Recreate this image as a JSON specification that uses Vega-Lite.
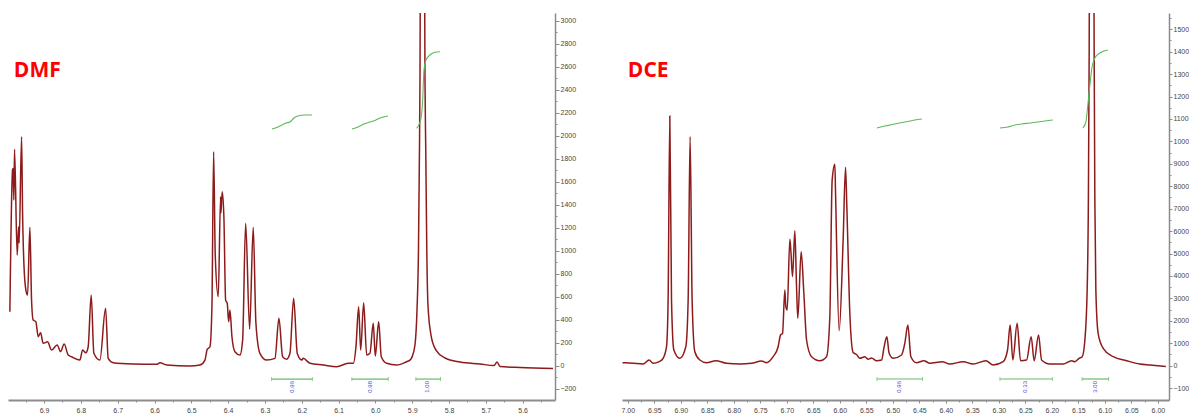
{
"$schema": "https://vega.github.io/schema/vega-lite/v6.json",
"padding": {"left": 8, "top": 13, "right": 0, "bottom": -6},
"background": "white",
"spacing": 67,
"bounds": "flush",
"config": {"view": {"stroke": null}, "axis": {"grid": false, "labelFont": "Liberation Sans", "labelFontSize": 7, "labelColor": "#444444", "domainColor": "#8c8c8c", "tickColor": "#8c8c8c", "titleFont": "Liberation Sans", "titleFontSize": 7, "titleFontWeight": "normal", "titleColor": "#444444", "labelOverlap": false, "labelFlush": false}},
"datasets": {
"dmf": [{"ppm":6.9929,"i":469},{"ppm":6.9856,"i":1702},{"ppm":6.9840,"i":1716},{"ppm":6.9821,"i":1441},{"ppm":6.9802,"i":1882},{"ppm":6.9731,"i":962},{"ppm":6.9693,"i":1209},{"ppm":6.9677,"i":1067},{"ppm":6.9611,"i":1991},{"ppm":6.9584,"i":1328},{"ppm":6.9549,"i":893},{"ppm":6.9494,"i":658},{"ppm":6.9448,"i":615},{"ppm":6.9386,"i":1203},{"ppm":6.9340,"i":571},{"ppm":6.9296,"i":397},{"ppm":6.9223,"i":383},{"ppm":6.9160,"i":252},{"ppm":6.9095,"i":287},{"ppm":6.9024,"i":195},{"ppm":6.8905,"i":208},{"ppm":6.8796,"i":136},{"ppm":6.8644,"i":180},{"ppm":6.8552,"i":122},{"ppm":6.8454,"i":189},{"ppm":6.8345,"i":93},{"ppm":6.8253,"i":78},{"ppm":6.8027,"i":49},{"ppm":6.7954,"i":136},{"ppm":6.7864,"i":113},{"ppm":6.7802,"i":165},{"ppm":6.7720,"i":615},{"ppm":6.7647,"i":108},{"ppm":6.7484,"i":49},{"ppm":6.7329,"i":499},{"ppm":6.7258,"i":64},{"ppm":6.7122,"i":26},{"ppm":6.6587,"i":15},{"ppm":6.5943,"i":12},{"ppm":6.5853,"i":26},{"ppm":6.5671,"i":6},{"ppm":6.5038,"i":-3},{"ppm":6.4766,"i":6},{"ppm":6.4630,"i":49},{"ppm":6.4568,"i":142},{"ppm":6.4494,"i":165},{"ppm":6.4440,"i":513},{"ppm":6.4394,"i":1861},{"ppm":6.4350,"i":962},{"ppm":6.4269,"i":600},{"ppm":6.4204,"i":1470},{"ppm":6.4196,"i":1328},{"ppm":6.4160,"i":1513},{"ppm":6.4114,"i":1282},{"ppm":6.4068,"i":571},{"ppm":6.4024,"i":543},{"ppm":6.3986,"i":383},{"ppm":6.3951,"i":484},{"ppm":6.3896,"i":252},{"ppm":6.3815,"i":122},{"ppm":6.3679,"i":93},{"ppm":6.3606,"i":223},{"ppm":6.3524,"i":1238},{"ppm":6.3416,"i":319},{"ppm":6.3318,"i":1203},{"ppm":6.3245,"i":369},{"ppm":6.3136,"i":108},{"ppm":6.2954,"i":49},{"ppm":6.2728,"i":64},{"ppm":6.2620,"i":412},{"ppm":6.2519,"i":78},{"ppm":6.2410,"i":56},{"ppm":6.2321,"i":108},{"ppm":6.2220,"i":586},{"ppm":6.2122,"i":108},{"ppm":6.2003,"i":49},{"ppm":6.1959,"i":64},{"ppm":6.1777,"i":21},{"ppm":6.1416,"i":6},{"ppm":6.1052,"i":-9},{"ppm":6.0736,"i":21},{"ppm":6.0600,"i":21},{"ppm":6.0527,"i":165},{"ppm":6.0454,"i":513},{"ppm":6.0399,"i":136},{"ppm":6.0318,"i":548},{"ppm":6.0236,"i":93},{"ppm":6.0147,"i":108},{"ppm":6.0057,"i":369},{"ppm":6.0002,"i":84},{"ppm":5.9910,"i":383},{"ppm":5.9839,"i":78},{"ppm":5.9693,"i":21},{"ppm":5.9421,"i":6},{"ppm":5.9149,"i":35},{"ppm":5.9060,"i":49},{"ppm":5.9005,"i":75},{"ppm":5.8924,"i":180},{"ppm":5.8869,"i":484},{"ppm":5.8829,"i":1006},{"ppm":5.8802,"i":1876},{"ppm":5.8788,"i":2500},{"ppm":5.8761,"i":5000},{"ppm":5.8720,"i":8000},{"ppm":5.8680,"i":5000},{"ppm":5.8652,"i":2500},{"ppm":5.8631,"i":1876},{"ppm":5.8603,"i":1006},{"ppm":5.8571,"i":528},{"ppm":5.8489,"i":267},{"ppm":5.8353,"i":136},{"ppm":5.8108,"i":67},{"ppm":5.7701,"i":32},{"ppm":5.7157,"i":15},{"ppm":5.6777,"i":2},{"ppm":5.6695,"i":32},{"ppm":5.6614,"i":-7},{"ppm":5.6070,"i":-16},{"ppm":5.5174,"i":-24}],
"dmf_int": [{"seg":1,"ppm":6.2810,"i":2058},{"seg":1,"ppm":6.2647,"i":2076},{"seg":1,"ppm":6.2538,"i":2093},{"seg":1,"ppm":6.2429,"i":2110},{"seg":1,"ppm":6.2321,"i":2119},{"seg":1,"ppm":6.2212,"i":2154},{"seg":1,"ppm":6.2103,"i":2171},{"seg":1,"ppm":6.1913,"i":2180},{"seg":1,"ppm":6.1723,"i":2180},{"seg":2,"ppm":6.0636,"i":2058},{"seg":2,"ppm":6.0473,"i":2076},{"seg":2,"ppm":6.0310,"i":2102},{"seg":2,"ppm":6.0147,"i":2119},{"seg":2,"ppm":5.9984,"i":2137},{"seg":2,"ppm":5.9875,"i":2154},{"seg":2,"ppm":5.9658,"i":2171},{"seg":3,"ppm":5.8878,"i":2064},{"seg":3,"ppm":5.8769,"i":2137},{"seg":3,"ppm":5.8715,"i":2310},{"seg":3,"ppm":5.8679,"i":2571},{"seg":3,"ppm":5.8625,"i":2658},{"seg":3,"ppm":5.8516,"i":2702},{"seg":3,"ppm":5.8381,"i":2725},{"seg":3,"ppm":5.8245,"i":2730}],
"dmf_bars": [{"ppm":6.282,"ppm2":6.171,"i":-116},{"ppm":6.064,"ppm2":5.965,"i":-116},{"ppm":5.890,"ppm2":5.823,"i":-116}],
"dmf_caps": [{"ppm":6.282,"i":-116},{"ppm":6.171,"i":-116},{"ppm":6.064,"i":-116},{"ppm":5.965,"i":-116},{"ppm":5.890,"i":-116},{"ppm":5.823,"i":-116}],
"dmf_lab": [{"ppm":6.227,"i":-133,"label":"0.96"},{"ppm":6.015,"i":-133,"label":"0.98"},{"ppm":5.859,"i":-133,"label":"1.00"}],
"dmf_name": [{"ppm":6.9821,"i":2508,"t":"DMF"}],
"dce": [{"ppm":7.0100,"i":134},{"ppm":6.9900,"i":107},{"ppm":6.9711,"i":76},{"ppm":6.9598,"i":254},{"ppm":6.9523,"i":107},{"ppm":6.9410,"i":178},{"ppm":6.9334,"i":330},{"ppm":6.9270,"i":847},{"ppm":6.9240,"i":2929},{"ppm":6.9208,"i":11132},{"ppm":6.9176,"i":2929},{"ppm":6.9132,"i":700},{"ppm":6.9019,"i":330},{"ppm":6.8906,"i":847},{"ppm":6.8862,"i":2929},{"ppm":6.8825,"i":10210},{"ppm":6.8787,"i":2929},{"ppm":6.8736,"i":624},{"ppm":6.8642,"i":254},{"ppm":6.8515,"i":134},{"ppm":6.8340,"i":223},{"ppm":6.8138,"i":107},{"ppm":6.7887,"i":76},{"ppm":6.7666,"i":107},{"ppm":6.7477,"i":210},{"ppm":6.7383,"i":134},{"ppm":6.7259,"i":401},{"ppm":6.7164,"i":847},{"ppm":6.7119,"i":1369},{"ppm":6.7081,"i":1445},{"ppm":6.7038,"i":3375},{"ppm":6.7019,"i":2630},{"ppm":6.6994,"i":2483},{"ppm":6.6943,"i":5635},{"ppm":6.6925,"i":5158},{"ppm":6.6893,"i":3968},{"ppm":6.6849,"i":6019},{"ppm":6.6817,"i":3522},{"ppm":6.6793,"i":2113},{"ppm":6.6730,"i":5083},{"ppm":6.6679,"i":3228},{"ppm":6.6628,"i":1146},{"ppm":6.6534,"i":401},{"ppm":6.6377,"i":223},{"ppm":6.6251,"i":401},{"ppm":6.6189,"i":2185},{"ppm":6.6145,"i":8279},{"ppm":6.6094,"i":8979},{"ppm":6.6081,"i":7686},{"ppm":6.6013,"i":1560},{"ppm":6.5938,"i":5604},{"ppm":6.5893,"i":8845},{"ppm":6.5868,"i":7089},{"ppm":6.5811,"i":2300},{"ppm":6.5749,"i":589},{"ppm":6.5685,"i":499},{"ppm":6.5623,"i":330},{"ppm":6.5528,"i":401},{"ppm":6.5466,"i":285},{"ppm":6.5402,"i":343},{"ppm":6.5308,"i":223},{"ppm":6.5213,"i":254},{"ppm":6.5164,"i":847},{"ppm":6.5113,"i":1293},{"ppm":6.5070,"i":553},{"ppm":6.4994,"i":330},{"ppm":6.4836,"i":477},{"ppm":6.4774,"i":999},{"ppm":6.4717,"i":1815},{"ppm":6.4660,"i":401},{"ppm":6.4553,"i":134},{"ppm":6.4415,"i":223},{"ppm":6.4302,"i":107},{"ppm":6.4070,"i":178},{"ppm":6.3925,"i":76},{"ppm":6.3674,"i":178},{"ppm":6.3485,"i":76},{"ppm":6.3245,"i":223},{"ppm":6.3108,"i":31},{"ppm":6.2919,"i":178},{"ppm":6.2836,"i":700},{"ppm":6.2787,"i":1815},{"ppm":6.2736,"i":254},{"ppm":6.2655,"i":1890},{"ppm":6.2591,"i":223},{"ppm":6.2477,"i":254},{"ppm":6.2391,"i":1293},{"ppm":6.2334,"i":223},{"ppm":6.2251,"i":1369},{"ppm":6.2194,"i":254},{"ppm":6.2038,"i":76},{"ppm":6.1787,"i":76},{"ppm":6.1628,"i":223},{"ppm":6.1566,"i":178},{"ppm":6.1485,"i":330},{"ppm":6.1428,"i":401},{"ppm":6.1377,"i":1146},{"ppm":6.1334,"i":3375},{"ppm":6.1311,"i":7387},{"ppm":6.1296,"i":14000},{"ppm":6.1277,"i":28000},{"ppm":6.1249,"i":45000},{"ppm":6.1221,"i":28000},{"ppm":6.1202,"i":14000},{"ppm":6.1189,"i":7387},{"ppm":6.1170,"i":3375},{"ppm":6.1127,"i":1445},{"ppm":6.1032,"i":776},{"ppm":6.0843,"i":401},{"ppm":6.0591,"i":223},{"ppm":6.0340,"i":76},{"ppm":6.0151,"i":31},{"ppm":5.9849,"i":-36}],
"dce_int": [{"seg":1,"ppm":6.5302,"i":10597},{"seg":1,"ppm":6.5151,"i":10686},{"seg":1,"ppm":6.5056,"i":10731},{"seg":1,"ppm":6.4962,"i":10776},{"seg":1,"ppm":6.4773,"i":10865},{"seg":1,"ppm":6.4679,"i":10910},{"seg":1,"ppm":6.4585,"i":10954},{"seg":1,"ppm":6.4453,"i":10999},{"seg":2,"ppm":6.2981,"i":10597},{"seg":2,"ppm":6.2830,"i":10642},{"seg":2,"ppm":6.2698,"i":10731},{"seg":2,"ppm":6.2566,"i":10776},{"seg":2,"ppm":6.2415,"i":10820},{"seg":2,"ppm":6.2264,"i":10865},{"seg":2,"ppm":6.2132,"i":10910},{"seg":2,"ppm":6.1981,"i":10954},{"seg":3,"ppm":6.1415,"i":10597},{"seg":3,"ppm":6.1358,"i":10865},{"seg":3,"ppm":6.1321,"i":11623},{"seg":3,"ppm":6.1283,"i":12515},{"seg":3,"ppm":6.1245,"i":13272},{"seg":3,"ppm":6.1189,"i":13718},{"seg":3,"ppm":6.1094,"i":13941},{"seg":3,"ppm":6.0943,"i":14075}],
"dce_bars": [{"ppm":6.530,"ppm2":6.444,"i":-593},{"ppm":6.298,"ppm2":6.199,"i":-593},{"ppm":6.143,"ppm2":6.093,"i":-593}],
"dce_caps": [{"ppm":6.530,"i":-593},{"ppm":6.444,"i":-593},{"ppm":6.298,"i":-593},{"ppm":6.199,"i":-593},{"ppm":6.143,"i":-593},{"ppm":6.093,"i":-593}],
"dce_lab": [{"ppm":6.488,"i":-682,"label":"0.96"},{"ppm":6.250,"i":-682,"label":"0.33"},{"ppm":6.118,"i":-682,"label":"3.00"}],
"dce_name": [{"ppm":7.000,"i":12858,"t":"DCE"}]
},
"hconcat": [
{
"width": 547, "height": 387,
"encoding": {
"x": {"field": "ppm", "type": "quantitative", "scale": {"domain": [5.512, 6.998], "reverse": true, "nice": false, "zero": false},
"axis": {"title": "f1 (ppm)", "titlePadding": 1, "values": [6.95,6.9,6.85,6.8,6.75,6.7,6.65,6.6,6.55,6.5,6.45,6.4,6.35,6.3,6.25,6.2,6.15,6.1,6.05,6.0,5.95,5.9,5.85,5.8,5.75,5.7,5.65,5.6,5.55], "format": ".1f", "labelExpr": "abs(datum.value*10 - round(datum.value*10)) < 0.01 ? datum.label : ''", "tickSize": {"condition": {"test": "abs(datum.value*10 - round(datum.value*10)) < 0.01", "value": 3}, "value": 2}, "domainWidth": 2, "labelPadding": 3}},
"y": {"field": "i", "type": "quantitative", "scale": {"domain": [-298, 3067], "nice": false, "zero": false},
"axis": {"orient": "right", "title": null, "values": [-200,-100,0,100,200,300,400,500,600,700,800,900,1000,1100,1200,1300,1400,1500,1600,1700,1800,1900,2000,2100,2200,2300,2400,2500,2600,2700,2800,2900,3000], "format": "d", "labelExpr": "datum.value % 200 == 0 ? datum.label : ''", "tickSize": {"condition": {"test": "datum.value % 200 == 0", "value": 4}, "value": 2}, "domainWidth": 1.5, "labelPadding": 1}}
},
"layer": [
{"data": {"name": "dmf"}, "mark": {"type": "line", "color": "#8e1b1b", "strokeWidth": 1.5, "clip": true, "interpolate": "monotone"}, "encoding": {}},
{"data": {"name": "dmf_int"}, "mark": {"type": "line", "color": "#5cb85c", "strokeWidth": 1.1, "interpolate": "monotone"}, "encoding": {"detail": {"field": "seg"}}},
{"data": {"name": "dmf_bars"}, "mark": {"type": "rule", "color": "#66bb66", "strokeWidth": 1.2}, "encoding": {"x2": {"field": "ppm2"}}},
{"data": {"name": "dmf_caps"}, "mark": {"type": "tick", "orient": "vertical", "color": "#66bb66", "size": 4, "thickness": 1}},
{"data": {"name": "dmf_lab"}, "mark": {"type": "text", "angle": 270, "align": "right", "baseline": "middle", "fontSize": 6, "font": "Liberation Sans", "color": "#4b4bd0"}, "encoding": {"text": {"field": "label"}}},
{"data": {"name": "dmf_name"}, "mark": {"type": "text", "align": "left", "baseline": "alphabetic", "font": "Open Sans", "fontWeight": "bold", "fontSize": 21, "color": "#ff0000"}, "encoding": {"text": {"field": "t"}}}
]
},
{
"width": 547, "height": 387,
"encoding": {
"x": {"field": "ppm", "type": "quantitative", "scale": {"domain": [5.979, 7.011], "reverse": true, "nice": false, "zero": false},
"axis": {"title": "f1 (ppm)", "titlePadding": 1, "values": [7.0,6.975,6.95,6.925,6.9,6.875,6.85,6.825,6.8,6.775,6.75,6.725,6.7,6.675,6.65,6.625,6.6,6.575,6.55,6.525,6.5,6.475,6.45,6.425,6.4,6.375,6.35,6.325,6.3,6.275,6.25,6.225,6.2,6.175,6.15,6.125,6.1,6.075,6.05,6.025,6.0], "format": ".2f", "labelExpr": "abs(datum.value*20 - round(datum.value*20)) < 0.01 ? datum.label : ''", "tickSize": {"condition": {"test": "abs(datum.value*20 - round(datum.value*20)) < 0.01", "value": 3}, "value": 2}, "domainWidth": 2, "labelPadding": 3}},
"y": {"field": "i", "type": "quantitative", "scale": {"domain": [-1529, 15724], "nice": false, "zero": false},
"axis": {"orient": "right", "title": null, "values": [-1000,-500,0,500,1000,1500,2000,2500,3000,3500,4000,4500,5000,5500,6000,6500,7000,7500,8000,8500,9000,9500,10000,10500,11000,11500,12000,12500,13000,13500,14000,14500,15000,15500], "format": "d", "labelExpr": "datum.value % 1000 == 0 ? slice(datum.label, 0, 4) : ''", "tickSize": {"condition": {"test": "datum.value % 1000 == 0", "value": 3}, "value": 2}, "domainWidth": 1.5, "labelPadding": 1}}
},
"layer": [
{"data": {"name": "dce"}, "mark": {"type": "line", "color": "#8e1b1b", "strokeWidth": 1.5, "clip": true, "interpolate": "monotone"}, "encoding": {}},
{"data": {"name": "dce_int"}, "mark": {"type": "line", "color": "#5cb85c", "strokeWidth": 1.1, "interpolate": "monotone"}, "encoding": {"detail": {"field": "seg"}}},
{"data": {"name": "dce_bars"}, "mark": {"type": "rule", "color": "#66bb66", "strokeWidth": 1.2}, "encoding": {"x2": {"field": "ppm2"}}},
{"data": {"name": "dce_caps"}, "mark": {"type": "tick", "orient": "vertical", "color": "#66bb66", "size": 4, "thickness": 1}},
{"data": {"name": "dce_lab"}, "mark": {"type": "text", "angle": 270, "align": "right", "baseline": "middle", "fontSize": 6, "font": "Liberation Sans", "color": "#4b4bd0"}, "encoding": {"text": {"field": "label"}}},
{"data": {"name": "dce_name"}, "mark": {"type": "text", "align": "left", "baseline": "alphabetic", "font": "Open Sans", "fontWeight": "bold", "fontSize": 21, "color": "#ff0000"}, "encoding": {"text": {"field": "t"}}}
]
}
]
}
